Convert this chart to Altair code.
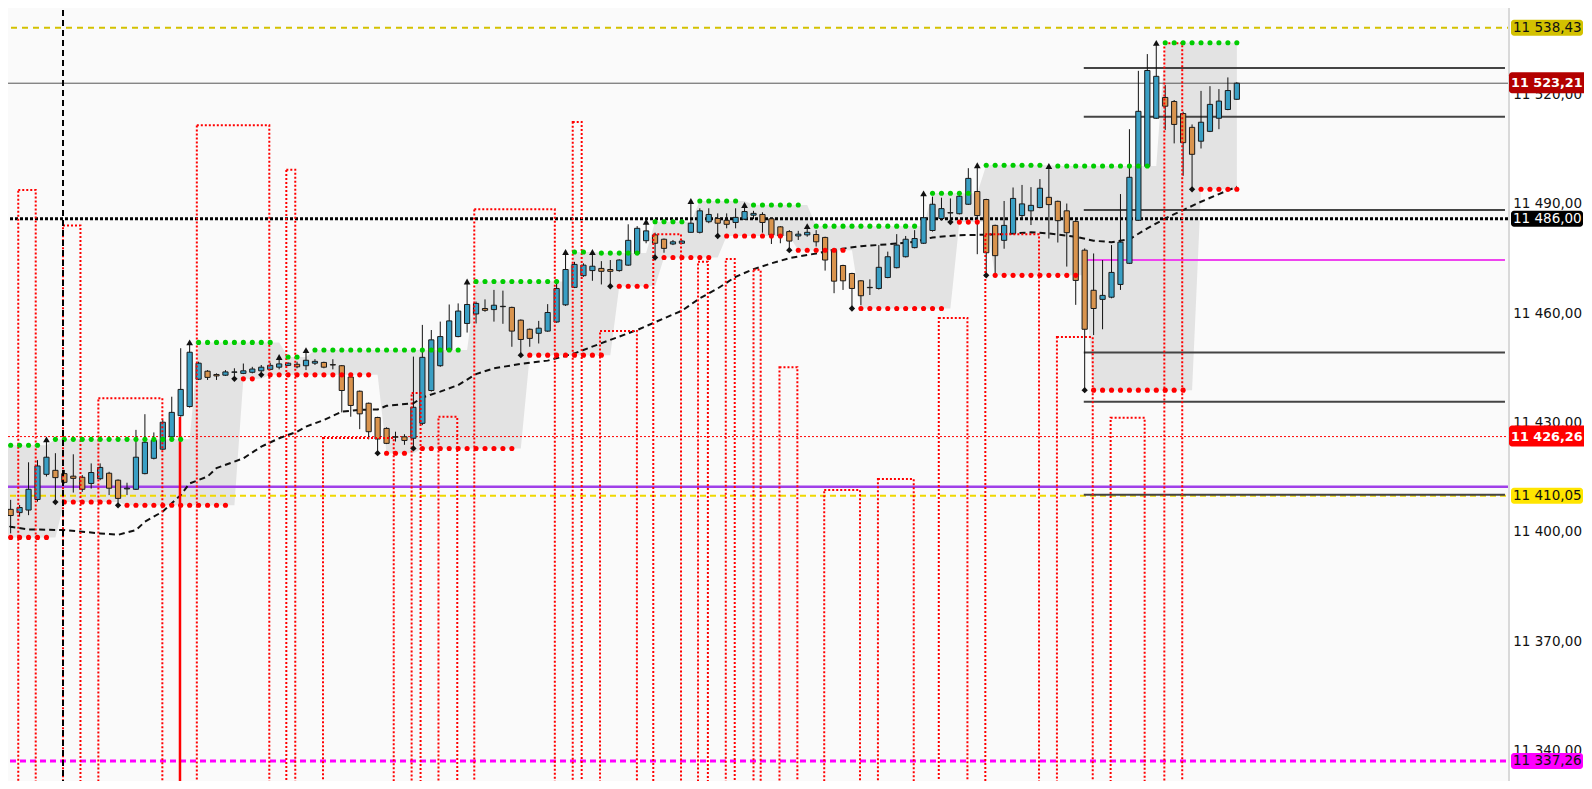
import altair as alt
import pandas as pd

# ---------------- candles (index 0..138) ----------------
opens = [11409.8, 11406.3, 11405.4, 11406.1, 11409.0, 11415.9, 11417.0, 11416.1, 11415.4, 11415.1,
         11413.4, 11414.7, 11416.2, 11414.3, 11411.9, 11411.8, 11416.1, 11420.3, 11422.8, 11426.2,
         11432.0, 11434.5, 11442.0, 11444.2, 11443.3, 11443.1, 11443.9, 11443.6, 11443.9, 11444.3,
         11444.7, 11445.3, 11445.8, 11446.1, 11445.7, 11446.4, 11446.6, 11446.0, 11445.7, 11442.6,
         11438.7, 11435.4, 11431.5, 11428.5, 11426.2, 11426.2, 11425.8, 11429.9, 11438.9, 11445.7,
         11450.0, 11453.7, 11457.3, 11459.9, 11461.4, 11461.1, 11461.9, 11461.7, 11458.2, 11455.7,
         11454.6, 11455.2, 11457.7, 11462.4, 11467.2, 11470.4, 11471.8, 11472.4, 11472.1, 11471.8,
         11473.3, 11476.5, 11480.0, 11481.6, 11480.4, 11479.1, 11479.3, 11482.3, 11482.3, 11485.2,
         11486.1, 11485.6, 11485.0, 11485.9, 11487.0, 11487.2, 11486.0, 11483.8, 11482.5, 11481.3,
         11481.6, 11481.7, 11480.9, 11477.4, 11473.2, 11471.0, 11469.0, 11467.2, 11466.9, 11469.9,
         11472.6, 11475.6, 11478.1, 11479.3, 11482.8, 11486.1, 11487.7, 11487.4, 11490.0, 11493.5,
         11491.3, 11484.2, 11480.1, 11482.0, 11486.9, 11488.2, 11489.1, 11491.9, 11490.8, 11488.2,
         11485.3, 11477.4, 11466.4, 11463.9, 11464.5, 11468.0, 11473.8, 11485.6, 11500.4, 11513.6,
         11519.3, 11518.2, 11514.9, 11511.1, 11507.3, 11510.0, 11513.6, 11516.0, 11518.8]
highs = [11412.5, 11408.9, 11407.5, 11419.2, 11419.8, 11425.5, 11421.7, 11417.1, 11421.4, 11415.7,
         11418.9, 11418.9, 11416.6, 11414.5, 11413.6, 11428.1, 11432.4, 11427.4, 11430.8, 11437.2,
         11450.5, 11452.1, 11446.8, 11444.5, 11443.6, 11444.5, 11445.0, 11446.3, 11445.4, 11445.9,
         11446.5, 11448.1, 11446.6, 11446.8, 11450.0, 11447.5, 11446.8, 11447.5, 11445.9, 11442.7,
         11438.9, 11435.6, 11431.7, 11428.8, 11427.6, 11426.9, 11448.2, 11456.9, 11455.5, 11457.8,
         11462.5, 11462.8, 11468.8, 11463.3, 11463.9, 11466.5, 11466.3, 11461.9, 11458.4, 11455.9,
         11458.0, 11462.6, 11468.3, 11476.9, 11474.2, 11473.8, 11476.9, 11474.4, 11474.7, 11474.9,
         11484.5, 11484.0, 11485.2, 11482.2, 11480.6, 11480.2, 11480.2, 11490.9, 11488.9, 11488.9,
         11487.5, 11487.5, 11488.9, 11489.8, 11488.2, 11487.8, 11486.1, 11484.0, 11482.9, 11482.7,
         11484.0, 11482.9, 11481.1, 11477.6, 11473.4, 11471.2, 11469.2, 11469.4, 11478.8, 11477.0,
         11481.8, 11481.3, 11482.9, 11493.0, 11492.1, 11491.8, 11491.6, 11493.4, 11499.9, 11500.7,
         11491.5, 11484.4, 11490.9, 11494.6, 11495.3, 11494.7, 11496.9, 11500.5, 11491.0, 11490.2,
         11485.7, 11477.9, 11476.5, 11474.7, 11478.8, 11492.8, 11510.6, 11526.6, 11531.2, 11534.3,
         11522.7, 11518.6, 11515.4, 11511.9, 11521.1, 11522.4, 11521.6, 11524.8, 11523.5]
lows = [11401.5, 11399.7, 11404.3, 11404.7, 11408.4, 11415.3, 11408.3, 11413.4, 11410.9, 11411.1,
        11412.0, 11414.3, 11410.2, 11407.4, 11410.2, 11411.6, 11415.9, 11420.0, 11422.6, 11426.0,
        11431.7, 11434.2, 11441.8, 11441.8, 11441.8, 11442.9, 11442.1, 11443.4, 11443.6, 11443.2,
        11444.5, 11444.7, 11445.6, 11445.0, 11444.5, 11445.9, 11445.0, 11444.7, 11432.9, 11431.7,
        11428.3, 11425.5, 11421.7, 11424.2, 11424.9, 11424.0, 11423.0, 11429.4, 11438.6, 11445.4,
        11449.8, 11453.5, 11454.8, 11457.3, 11460.5, 11457.8, 11457.2, 11450.9, 11448.6, 11450.9,
        11451.8, 11455.0, 11457.5, 11462.1, 11467.0, 11470.1, 11469.0, 11468.0, 11467.5, 11471.5,
        11473.1, 11476.3, 11479.3, 11475.4, 11476.7, 11478.8, 11479.1, 11482.2, 11482.0, 11484.8,
        11481.3, 11483.4, 11483.4, 11485.7, 11485.9, 11482.2, 11479.1, 11479.3, 11477.4, 11480.2,
        11481.1, 11478.4, 11471.8, 11465.6, 11466.5, 11461.4, 11462.3, 11465.1, 11466.6, 11469.7,
        11472.4, 11475.4, 11477.9, 11479.1, 11482.5, 11485.5, 11485.1, 11487.2, 11489.8, 11476.3,
        11470.5, 11471.0, 11477.8, 11481.8, 11485.7, 11484.3, 11488.9, 11480.6, 11479.5, 11472.9,
        11462.4, 11439.0, 11454.1, 11455.7, 11464.2, 11466.5, 11473.6, 11485.4, 11500.3, 11513.4,
        11510.4, 11506.7, 11497.8, 11494.1, 11505.3, 11509.8, 11510.6, 11515.8, 11518.6]
closes = [11405.2, 11404.6, 11406.8, 11411.8, 11418.2, 11420.6, 11415.0, 11413.7, 11414.8, 11411.8,
          11416.4, 11417.8, 11412.1, 11409.3, 11412.1, 11420.6, 11424.7, 11425.2, 11430.2, 11432.9,
          11439.2, 11449.4, 11446.4, 11442.5, 11442.9, 11444.0, 11444.0, 11444.3, 11444.8, 11445.3,
          11445.8, 11446.2, 11446.4, 11445.4, 11447.2, 11446.9, 11445.3, 11445.9, 11438.9, 11434.8,
          11432.5, 11427.6, 11425.6, 11424.4, 11426.1, 11425.2, 11434.3, 11448.0, 11452.8, 11453.7,
          11458.0, 11460.7, 11462.5, 11462.8, 11460.9, 11462.3, 11462.0, 11455.2, 11452.9, 11453.2,
          11456.0, 11460.3, 11466.9, 11472.1, 11473.5, 11473.3, 11473.0, 11471.6, 11471.6, 11474.7,
          11480.1, 11483.4, 11482.7, 11479.3, 11477.9, 11479.7, 11479.9, 11484.8, 11488.2, 11487.2,
          11484.8, 11484.5, 11486.4, 11488.0, 11487.5, 11485.0, 11481.6, 11481.3, 11479.9, 11481.8,
          11482.3, 11479.7, 11474.7, 11468.9, 11469.0, 11466.9, 11464.9, 11467.1, 11472.7, 11475.6,
          11478.8, 11480.4, 11480.6, 11486.3, 11490.0, 11488.8, 11487.6, 11492.2, 11497.1, 11486.9,
          11476.7, 11475.9, 11484.2, 11491.6, 11490.1, 11489.7, 11494.4, 11489.9, 11485.5, 11482.2,
          11469.1, 11455.7, 11461.4, 11465.0, 11471.3, 11479.6, 11497.4, 11515.5, 11526.7, 11525.1,
          11516.9, 11511.9, 11506.9, 11503.7, 11512.5, 11517.4, 11518.3, 11521.2, 11523.21]

# ---------------- fractal channel ----------------
res_start = [0, 6, 22, 32, 35, 53, 64, 67, 73, 78, 84, 91, 104, 110, 118, 130]
res_level = [11423.9, 11425.5, 11452.1, 11448.1, 11450.0, 11468.8, 11476.9, 11476.6, 11485.2,
             11490.9, 11489.8, 11484.0, 11493.0, 11500.7, 11500.5, 11534.3]
sup_start = [0, 7, 14, 27, 30, 43, 47, 59, 69, 74, 81, 89, 96, 107, 111, 122, 134]
sup_level = [11398.6, 11408.3, 11407.4, 11442.1, 11443.2, 11421.7, 11423.0, 11448.6, 11467.5,
             11475.4, 11481.3, 11477.4, 11461.4, 11485.1, 11470.5, 11439.0, 11494.1]
hi_frac = [5, 21, 31, 34, 52, 63, 66, 72, 77, 83, 90, 103, 109, 117, 129]
lo_frac = [6, 13, 26, 29, 42, 46, 58, 68, 73, 80, 88, 95, 106, 110, 121, 133]

# ---------------- moving average ----------------
ma_idx = [0, 1, 3, 7, 11, 13, 15, 16, 18, 20, 21, 23, 24, 27, 29, 31, 33, 34, 36, 38,
          40, 42, 43, 46, 47, 49, 51, 53, 55, 58, 61, 64, 68, 71, 74, 76, 78, 80, 82, 84,
          86, 88, 91, 93, 96, 99, 102, 104, 107, 109, 112, 115, 117, 120, 122, 124, 126, 128, 130, 132,
          134, 136, 138]
ma_val = [11403.4, 11401.5, 11400.8, 11400.6, 11399.7, 11399.3, 11400.6, 11402.9, 11405.7, 11410.2,
          11413.4, 11415.3, 11417.6, 11420.3, 11423.5, 11425.8, 11427.6, 11429.0, 11430.8, 11433.1,
          11433.6, 11433.7, 11434.7, 11435.4, 11437.0, 11438.6, 11440.4, 11443.4, 11445.0, 11446.2,
          11447.1, 11449.1, 11452.8, 11455.5, 11458.7, 11460.8, 11464.2, 11466.9, 11470.1, 11472.2,
          11473.8, 11475.2, 11476.5, 11477.5, 11478.5, 11479.0, 11479.7, 11480.9, 11481.5, 11481.6,
          11481.8, 11482.3, 11482.0, 11481.1, 11480.0, 11479.6, 11480.4, 11483.4, 11486.1, 11488.4,
          11490.7, 11492.8, 11494.8]

# ---------------- red dotted histogram boxes ----------------
box_start = [-3, 1.85, 6.85, 10.8, 21.8, 31.8, 35.9, 45.8, 48.8, 52.8, 63.8, 66.85, 72.8, 77.8,
             80.9, 84.0, 86.9, 91.9, 97.9, 104.7, 109.9, 117.9, 123.9, 129.9]
box_end = [-0.19, 3.8, 8.8, 17.95, 29.9, 32.8, 43.8, 46.8, 50.9, 61.8, 64.8, 70.97, 75.9, 78.9,
           81.9, 84.8, 88.9, 95.9, 101.9, 107.9, 115.9, 121.9, 127.7, 131.9]
box_top = [11397.9, 11493.9, 11484.2, 11436.8, 11511.7, 11499.5, 11425.9, 11438.2, 11431.7, 11488.6,
           11512.6, 11455.2, 11481.8, 11474.2, 11475.0, 11472.0, 11445.3, 11411.6, 11414.6, 11458.8,
           11481.8, 11453.6, 11431.4, 11534.2]
solid_red_at = [19.92]
solid_red_top = [11431.6]

# ---------------- horizontal levels ----------------
fib_levels = [11527.4, 11514.0, 11488.4, 11449.3, 11435.8, 11410.3]
fib_from, fib_to = 120.9, 167.96
magenta_level = [11474.7]
vline_at = [6.85]

lbl_price = [11538.43, 11486.00, 11410.05, 11337.26]
lbl_text = ["11 538,43", "11 486,00", "11 410,05", "11 337,26"]
lbl_bg = ["#d3c100", "#000000", "#ffe500", "#ff00ff"]
lbl_fg = ["#111111", "#ffffff", "#111111", "#111111"]
big_price = [11523.21, 11426.26]
big_text = ["11 523,21", "11 426,26"]
big_bg = ["#b30000", "#ff0000"]

axis_ticks = [11340, 11370, 11400, 11430, 11460, 11490, 11520]
axis_labels = ["11 340,00", "11 370,00", "11 400,00", "11 430,00", "11 460,00", "11 490,00", "11 520,00"]

W, H = 1509, 789
BLUE, ORANGE = "#3a9fc4", "#d9944e"
FONT = "DejaVu Sans"

n = len(opens)
idx = list(range(n))


def expand(starts, levels):
    out = []
    for i in idx:
        k = max(j for j, s in enumerate(starts) if s <= i)
        out.append(levels[k])
    return out


res = expand(res_start, res_level)
sup = expand(sup_start, sup_level)

candles = pd.DataFrame({"i": idx, "o": opens, "h": highs, "l": lows, "c": closes})
candles["col"] = [BLUE if c >= o else ORANGE for o, c in zip(opens, closes)]
band = pd.DataFrame({"i": idx, "R": res, "S": sup})
gdots = pd.DataFrame({"i": [i for i in idx if i not in hi_frac],
                      "p": [res[i] for i in idx if i not in hi_frac]})
rdots = pd.DataFrame({"i": [i for i in idx if i not in lo_frac],
                      "p": [sup[i] for i in idx if i not in lo_frac]})
hf = pd.DataFrame({"i": hi_frac, "p": [highs[i] for i in hi_frac]})
lf = pd.DataFrame({"i": lo_frac, "p": [lows[i] for i in lo_frac]})
ma = pd.DataFrame({"i": ma_idx, "p": ma_val})
boxes = pd.DataFrame({"a": box_start, "b": box_end, "t": box_top, "bot": [11320] * len(box_top)})
solid = pd.DataFrame({"i": solid_red_at, "t": solid_red_top, "bot": [11320]})
fib = pd.DataFrame({"p": fib_levels, "a": [fib_from] * len(fib_levels), "b": [fib_to] * len(fib_levels)})
mag = pd.DataFrame({"p": magenta_level, "a": [fib_from], "b": [fib_to]})
vl = pd.DataFrame({"i": vline_at})
lbl = pd.DataFrame({"p": lbl_price, "t": lbl_text, "bg": lbl_bg, "fg": lbl_fg})
big = pd.DataFrame({"p": big_price, "t": big_text, "bg": big_bg})
ticks = pd.DataFrame({"p": axis_ticks, "t": axis_labels})

xs = alt.Scale(domain=[-0.19, 168.41], nice=False, zero=False)
ys = alt.Scale(domain=[11329.57, 11546.04], nice=False, zero=False)


def X(f):
    return alt.X(f, type="quantitative", scale=xs, axis=None)


def Y(f):
    return alt.Y(f, type="quantitative", scale=ys, axis=None)


band_l = alt.Chart(band).mark_area(color="#e3e3e3", interpolate="linear", opacity=1).encode(
    x=X("i"), y=Y("R"), y2="S:Q")


def hline(value, color, width, dash=None):
    kw = dict(color=color, strokeWidth=width)
    if dash:
        kw["strokeDash"] = dash
    return alt.Chart(pd.DataFrame({"p": [value]})).mark_rule(**kw).encode(
        y=Y("p"), x=alt.value(0), x2=alt.value(W))


lines = [
    hline(11538.43, "#d3c100", 2, [6, 5]),
    hline(11523.21, "#555555", 1),
    hline(11486.00, "#000000", 3, [3, 2]),
    hline(11426.26, "#ff0000", 1, [2, 2]),
    hline(11412.5, "#a040e8", 2.5),
    hline(11410.05, "#f0d800", 2, [6, 4]),
    hline(11337.26, "#ff00ff", 3, [6, 4]),
]

fib_l = alt.Chart(fib).mark_rule(color="#444444", strokeWidth=2).encode(x=X("a"), x2="b", y=Y("p"))
mag_l = alt.Chart(mag).mark_rule(color="#ee44ee", strokeWidth=2).encode(x=X("a"), x2="b", y=Y("p"))
ma_l = alt.Chart(ma).mark_line(color="#111111", strokeWidth=2, strokeDash=[6, 4]).encode(x=X("i"), y=Y("p"))

wicks = alt.Chart(candles).mark_rule(color="#111111", strokeWidth=1).encode(x=X("i"), y=Y("l"), y2="h")
bodies = alt.Chart(candles).mark_rect(xOffset=-2.6, x2Offset=2.6, stroke="#1a1a1a", strokeWidth=1).encode(
    x=X("i"), x2="i", y=Y("o"), y2="c", color=alt.Color("col:N", scale=None))

box_l = alt.Chart(boxes).mark_rect(fillOpacity=0, stroke="#ff0000", strokeWidth=2,
                                   strokeDash=[2, 2], clip=True).encode(
    x=X("a"), x2="b", y=Y("t"), y2="bot")
solid_l = alt.Chart(solid).mark_rule(color="#ff0000", strokeWidth=2.5, clip=True).encode(
    x=X("i"), y=Y("t"), y2="bot")

gd = alt.Chart(gdots).mark_circle(color="#00cc00", size=26, opacity=1).encode(x=X("i"), y=Y("p"))
rd = alt.Chart(rdots).mark_circle(color="#ff0000", size=26, opacity=1).encode(x=X("i"), y=Y("p"))
hf_l = alt.Chart(hf).mark_point(shape="triangle-up", filled=True, color="#111111", size=45, opacity=1).encode(
    x=X("i"), y=Y("p"))
lf_l = alt.Chart(lf).mark_point(shape="diamond", filled=True, color="#111111", size=40, opacity=1).encode(
    x=X("i"), y=Y("p"))
vl_l = alt.Chart(vl).mark_rule(color="#000000", strokeWidth=2, strokeDash=[6, 4]).encode(
    x=X("i"), y=alt.value(0), y2=alt.value(H))

edge = alt.Chart(pd.DataFrame({"k": [0]})).mark_rule(color="#d9d9d9", strokeWidth=2).encode(
    x=alt.value(W), y=alt.value(0), y2=alt.value(H))

tick_txt = alt.Chart(ticks).mark_text(align="right", baseline="middle", font=FONT, fontSize=13.5,
                                      color="#111111").encode(
    x=alt.value(1582), y=Y("p"), text="t:N")

lbl_box = alt.Chart(lbl).mark_rect(cornerRadius=3, yOffset=-8, y2Offset=8).encode(
    x=alt.value(1511), x2=alt.value(1583), y=Y("p"), y2="p", color=alt.Color("bg:N", scale=None))
lbl_txt = alt.Chart(lbl).mark_text(align="left", baseline="middle", font=FONT, fontSize=13.5).encode(
    x=alt.value(1513), y=Y("p"), text="t:N", color=alt.Color("fg:N", scale=None))
big_box = alt.Chart(big).mark_rect(cornerRadius=3, yOffset=-11, y2Offset=10).encode(
    x=alt.value(1509), x2=alt.value(1600), y=Y("p"), y2="p", color=alt.Color("bg:N", scale=None))
big_txt = alt.Chart(big).mark_text(align="left", baseline="middle", font=FONT, fontSize=12.8,
                                   fontWeight="bold", color="#ffffff").encode(
    x=alt.value(1511), y=Y("p"), text="t:N")

chart = alt.layer(
    band_l, *lines, fib_l, mag_l, ma_l, wicks, bodies, box_l, solid_l, gd, rd, hf_l, lf_l, vl_l,
    edge, tick_txt, lbl_box, lbl_txt, big_box, big_txt
).properties(
    width=W, height=H, background="white",
    padding={"left": -8, "top": -8, "right": 75, "bottom": -8},
    autosize=alt.AutoSizeParams(type="none"),
).configure_view(fill="#fafafa", stroke="transparent")

chart.save("out.html", embed_options={"renderer": "svg", "actions": False})
